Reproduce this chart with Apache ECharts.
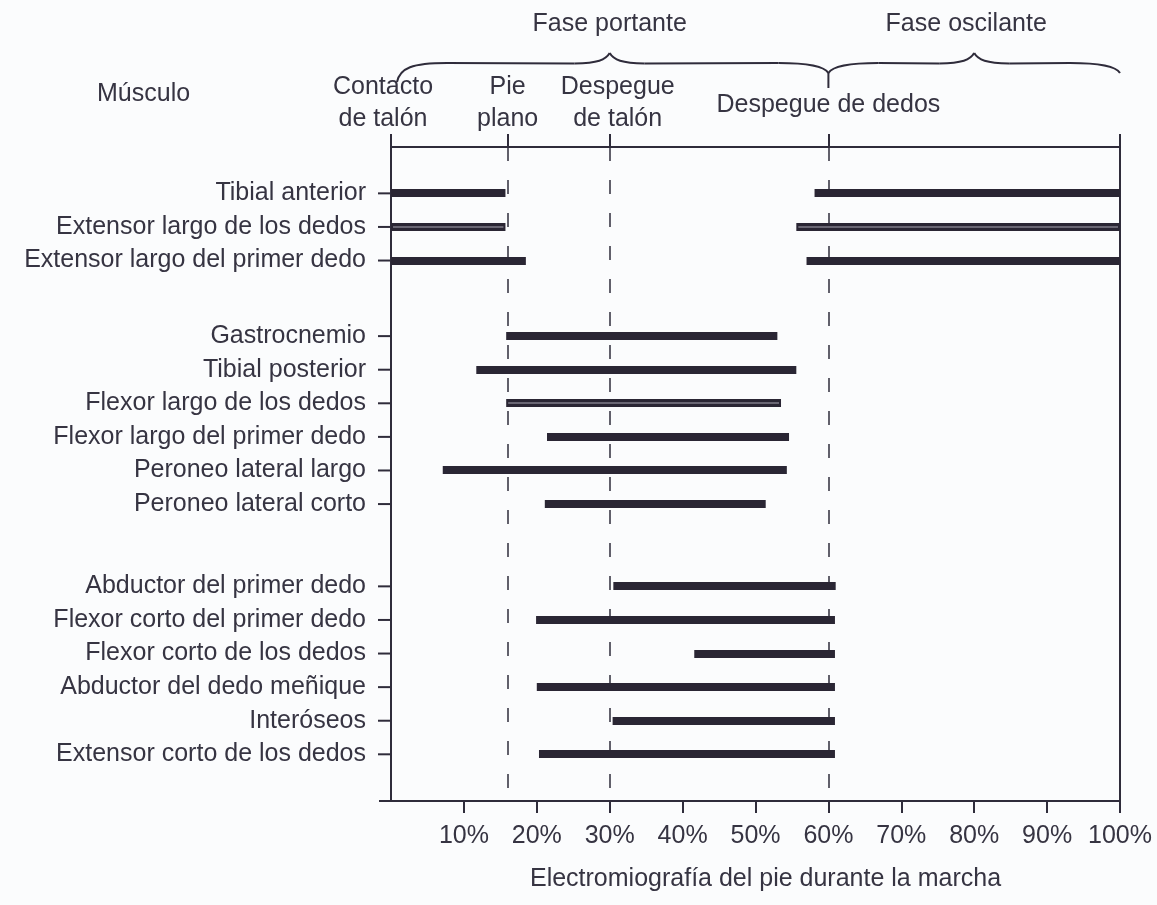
<!DOCTYPE html>
<html>
<head>
<meta charset="utf-8">
<script src="https://cdn.jsdelivr.net/npm/echarts@6/dist/echarts.min.js"></script>
<style>
  html, body { margin: 0; padding: 0; background: #fbfcfd; }
  #main { width: 1157px; height: 905px; }
</style>
</head>
<body>
<div id="main"></div>
<script>
// músculos, de arriba abajo
var muscles = [
  'Tibial anterior',
  'Extensor largo de los dedos',
  'Extensor largo del primer dedo',
  'Gastrocnemio',
  'Tibial posterior',
  'Flexor largo de los dedos',
  'Flexor largo del primer dedo',
  'Peroneo lateral largo',
  'Peroneo lateral corto',
  'Abductor del primer dedo',
  'Flexor corto del primer dedo',
  'Flexor corto de los dedos',
  'Abductor del dedo meñique',
  'Interóseos',
  'Extensor corto de los dedos'
];
var muscleGroup = [0, 0, 0, 1, 1, 1, 1, 1, 1, 2, 2, 2, 2, 2, 2];

// actividad (% del ciclo de marcha)
var stanceOn  = [0, 0, 0, 15.8, 11.7, 15.8, 21.4, 7.1, 21.1, 30.5, 19.9, 41.6, 20.0, 30.4, 20.3];
var stanceOff = [15.7, 15.7, 18.5, 53.0, 55.6, 53.5, 54.6, 54.3, 51.4, 61.0, 60.9, 60.9, 60.9, 60.9, 60.9];
var swingOn   = [58.1, 55.6, 57.0];
var swingOff  = [100, 100, 100];

// eventos de la marcha
var eventPct = [0, 16, 30, 60];
var eventNames = ['Contacto\nde talón', 'Pie\nplano', 'Despegue\nde talón', 'Despegue de dedos'];

// fases
var phaseStart = [0, 60];
var phaseEnd = [60, 100];
var phaseNames = ['Fase portante', 'Fase oscilante'];

var xTicks = [10, 20, 30, 40, 50, 60, 70, 80, 90, 100];

var FONT = '"Liberation Sans", Arial, sans-serif';
var TEXT = '#363442';
var INK = '#2f2c3b';
var BAR = '#2a2634';

var groupShift = [0, 1.25, 2.7];
var yMin = -1.38, yMax = 18.09;
var rowPos = muscles.map(function (m, i) { return i + groupShift[muscleGroup[i]]; });
var doubleRows = [1, 5];

var barData = [];
muscles.forEach(function (m, i) {
  var dbl = doubleRows.indexOf(i) >= 0 ? 1 : 0;
  barData.push([stanceOn[i], stanceOff[i], rowPos[i], dbl]);
  if (i < swingOn.length) barData.push([swingOn[i], swingOff[i], rowPos[i], dbl]);
});

var chart = echarts.init(document.getElementById('main'));

function renderBar(params, api) {
  var a = api.coord([api.value(0), api.value(2)]);
  var b = api.coord([api.value(1), api.value(2)]);
  var y0 = Math.round(a[1] - 4);
  var kids = [{
    type: 'rect',
    shape: { x: a[0], y: y0, width: b[0] - a[0], height: 8 },
    style: { fill: BAR }
  }];
  if (api.value(3)) {
    kids.push({
      type: 'rect',
      shape: { x: a[0] + 2, y: y0 + 3.5, width: b[0] - a[0] - 4, height: 1 },
      style: { fill: '#a9a7b3' }
    });
  }
  return { type: 'group', children: kids };
}

function renderLabel(params, api) {
  var p = api.coord([0, api.value(1)]);
  return {
    type: 'group',
    children: [
      { type: 'line', shape: { x1: p[0] - 13, y1: p[1], x2: p[0], y2: p[1] },
        style: { stroke: INK, lineWidth: 2 } },
      { type: 'text', x: p[0] - 25, y: p[1],
        style: { text: muscles[params.dataIndex], fill: TEXT, fontSize: 25, fontFamily: FONT,
                 align: 'right', verticalAlign: 'middle' } }
    ]
  };
}

function bez(x1, y1, c1x, c1y, c2x, c2y, x2, y2) {
  return { type: 'bezierCurve',
    shape: { x1: x1, y1: y1, cpx1: c1x, cpy1: c1y, cpx2: c2x, cpy2: c2y, x2: x2, y2: y2 },
    style: { stroke: INK, lineWidth: 2, fill: null } };
}
function seg(x1, y1, x2, y2) {
  return { type: 'line', shape: { x1: x1, y1: y1, x2: x2, y2: y2 },
    style: { stroke: INK, lineWidth: 2 } };
}

function renderBrace(params, api) {
  var top = params.coordSys.y;
  var xa = api.coord([api.value(0), 0])[0];
  var xb = api.coord([api.value(1), 0])[0];
  var xm = (xa + xb) / 2;
  var yb = top - 84, yp = top - 94;
  var first = params.dataIndex === 0;
  var yl = first ? top - 65 : top - 74;
  var yr = top - 74;
  var xl = first ? xa + 6 : xa;
  var kids = [
    bez(xl, yl, xl + 3, yb + 5, xl + 15, yb, xl + 50, yb),
    seg(xl + 50, yb, xm - 35, yb + 0.5),
    bez(xm - 35, yb + 0.5, xm - 12, yb, xm - 4, yb - 3, xm, yp),
    bez(xm, yp, xm + 4, yb - 3, xm + 12, yb, xm + 35, yb + 0.5),
    seg(xm + 35, yb + 0.5, xb - 50, yb),
    bez(xb - 50, yb, xb - 15, yb, xb - 3, yb + 5, xb, yr),
    { type: 'text', x: xm - (first ? 0 : 8), y: top - 123,
      style: { text: phaseNames[params.dataIndex], fill: TEXT, fontSize: 25, fontFamily: FONT,
               align: 'center', verticalAlign: 'middle' } }
  ];
  if (first) kids.push(seg(xb, yr, xb, top - 59));
  return { type: 'group', children: kids };
}

function renderFrame(params, api) {
  var p = api.coord([0, yMax]);
  return seg(p[0] - 12, p[1], p[0], p[1]);
}

var eventTags = ['l', 'c', 'r', 'd'];
function richStyle(extra) {
  var s = { fontSize: 25, fontFamily: FONT, color: TEXT, lineHeight: 32 };
  for (var k in extra) s[k] = extra[k];
  return s;
}

var option = {
  backgroundColor: '#fbfcfd',
  animation: false,
  title: {
    text: 'Músculo',
    left: 92,
    top: 77,
    textStyle: { fontSize: 25, fontWeight: 'normal', fontFamily: FONT, color: TEXT }
  },
  grid: { left: 391, right: 37, top: 147, bottom: 104, outerBoundsMode: 'none' },
  xAxis: [{
    type: 'value',
    min: 0,
    max: 100,
    interval: 10,
    position: 'bottom',
    splitLine: { show: false },
    axisLine: { onZero: false, lineStyle: { color: INK, width: 2 } },
    axisTick: { customValues: xTicks, length: 12, lineStyle: { color: INK, width: 2 } },
    axisLabel: {
      customValues: xTicks,
      formatter: '{value}%',
      margin: 23,
      fontSize: 25,
      fontFamily: FONT,
      color: TEXT
    },
    name: 'Electromiografía del pie durante la marcha',
    nameLocation: 'middle',
    nameGap: 66,
    nameTextStyle: { fontSize: 25, fontFamily: FONT, color: TEXT, padding: [0, 0, 0, 20] }
  }, {
    type: 'value',
    min: 0,
    max: 100,
    position: 'top',
    splitLine: { show: false },
    axisLine: { onZero: false, lineStyle: { color: INK, width: 2 } },
    axisTick: { customValues: [0, 16, 30, 60, 100], length: 13, lineStyle: { color: INK, width: 2 } },
    axisLabel: {
      customValues: eventPct,
      margin: 12,
      formatter: function (v) {
        var i = eventPct.indexOf(v);
        if (i < 0) return '';
        return eventNames[i].split('\n').map(function (s) {
          return '{' + eventTags[i] + '|' + s + '}';
        }).join('\n');
      },
      rich: {
        l: richStyle({ padding: [0, 16, 0, 0] }),
        c: richStyle({}),
        r: richStyle({ padding: [0, 0, 0, 16] }),
        d: richStyle({ lineHeight: 60 })
      }
    }
  }],
  yAxis: [{
    type: 'value',
    inverse: true,
    min: yMin,
    max: yMax,
    splitLine: { show: false },
    axisTick: { show: false },
    axisLabel: { show: false },
    axisLine: { show: true, onZero: false, lineStyle: { color: INK, width: 2 } }
  }, {
    type: 'value',
    inverse: true,
    min: yMin,
    max: yMax,
    position: 'right',
    splitLine: { show: false },
    axisTick: { show: false },
    axisLabel: { show: false },
    axisLine: { show: true, onZero: false, lineStyle: { color: INK, width: 2 } }
  }],
  series: [{
    type: 'custom',
    name: 'actividad',
    renderItem: renderBar,
    encode: { x: [0, 1], y: 2 },
    data: barData,
    markLine: {
      silent: true,
      symbol: 'none',
      label: { show: false },
      lineStyle: { type: [14, 19], color: INK, width: 1.5 },
      data: eventPct.slice(1).map(function (v) { return { xAxis: v }; })
    },
    z: 5
  }, {
    type: 'custom',
    name: 'músculos',
    renderItem: renderLabel,
    encode: { x: 0, y: 1 },
    data: rowPos.map(function (p) { return [0, p]; })
  }, {
    type: 'custom',
    name: 'fases',
    renderItem: renderBrace,
    encode: { x: [0, 1] },
    data: phaseStart.map(function (s, i) { return [s, phaseEnd[i]]; }),
    clip: false
  }, {
    type: 'custom',
    name: 'marco',
    renderItem: renderFrame,
    data: [[0, yMax]]
  }]
};

chart.setOption(option);
</script>
</body>
</html>
